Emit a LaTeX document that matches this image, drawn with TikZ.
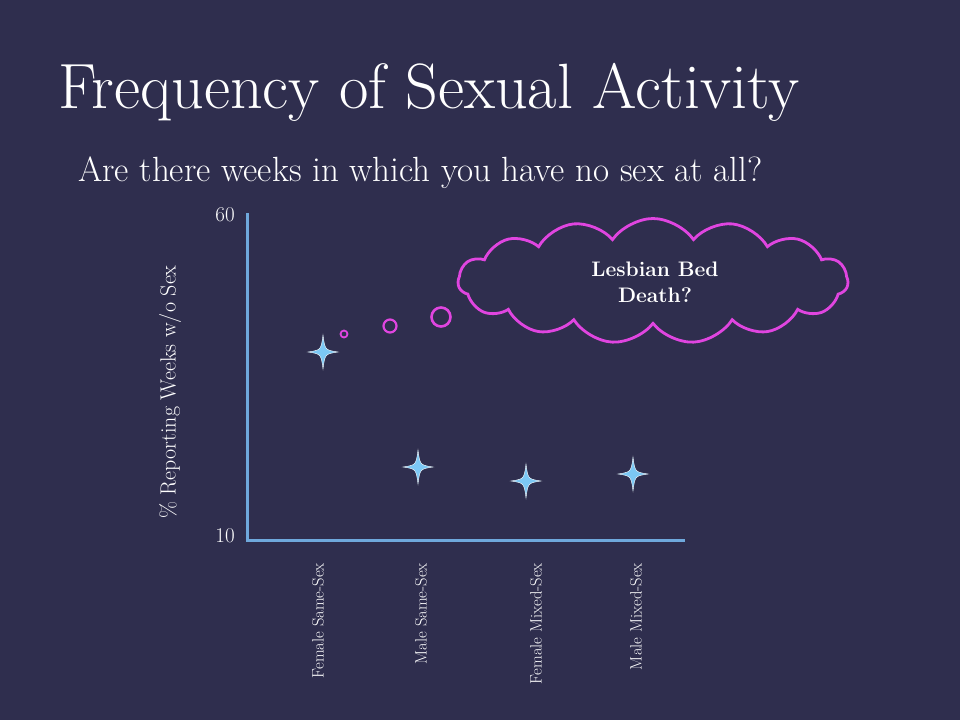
\documentclass[tikz,border=0pt]{standalone}
\usetikzlibrary{shapes.symbols}
\definecolor{bg}{HTML}{2F2E4E}
\definecolor{axis}{HTML}{6FA8DC}
\definecolor{mag}{HTML}{E045E0}
\definecolor{starc}{HTML}{7CC8F5}
\begin{document}
\begin{tikzpicture}[x=1pt,y=-1pt,
  lbl/.style={text=white,inner sep=0pt},
  ring/.style={draw=mag,line width=2.2pt},
  starshape/.style={fill=starc,draw=white,line width=0.4pt}]
\useasboundingbox (0,0) rectangle (960,720);
\fill[bg] (0,0) rectangle (960,720);
\node[lbl,anchor=base west,font=\fontsize{64}{72}\selectfont] (title) at (58,108) {Frequency of Sexual Activity};
\node[lbl,anchor=base west,font=\fontsize{35}{40}\selectfont] (sub) at (78,181) {Are there weeks in which you have no sex at all?};
\coordinate (o) at (247,540);
\coordinate (yt) at (247,213);
\coordinate (xt) at (685,540);
\draw[axis,line width=3pt] (yt) -- (o) -- (xt);
\node[lbl,font=\fontsize{21}{24}\selectfont] (y60) at (225,215) {60};
\node[lbl,font=\fontsize{21}{24}\selectfont] (y10) at (225,536) {10};
\node[lbl,rotate=90,font=\fontsize{22}{24}\selectfont] (ylab) at (170,392) {\% Reporting Weeks w/o Sex};
\foreach \x/\t [count=\i] in {318/Female Same-Sex,421/Male Same-Sex,536/Female Mixed-Sex,636/Male Mixed-Sex}
  \node[lbl,rotate=90,anchor=east,font=\fontsize{16.5}{18}\selectfont] (c\i) at (\x,563) {\t};
\foreach \x/\y [count=\i] in {323/352,418/467,526/481,633/474}
  \fill[starshape] (\x,\y-17) .. controls (\x+2,\y-2) .. (\x+15,\y) .. controls (\x+2,\y+2) .. (\x,\y+17)
     .. controls (\x-2,\y+2) .. (\x-15,\y) .. controls (\x-2,\y-2) .. cycle;
\draw[ring,line width=1.8pt] (344,334) circle (3.5);
\draw[ring] (390,326) circle (6.5);
\draw[ring,line width=2.6pt] (441,317) circle (9.5);
\node[cloud,cloud puffs=15,cloud puff arc=110,aspect=3.2,draw=mag,line width=2.8pt,
  minimum width=390,minimum height=125] (cloud) at (653,281) {};
\node[lbl,align=center,font=\fontsize{21}{26}\selectfont\bfseries] (ct) at (655,282) {Lesbian Bed\\Death?};
\end{tikzpicture}
\end{document}
